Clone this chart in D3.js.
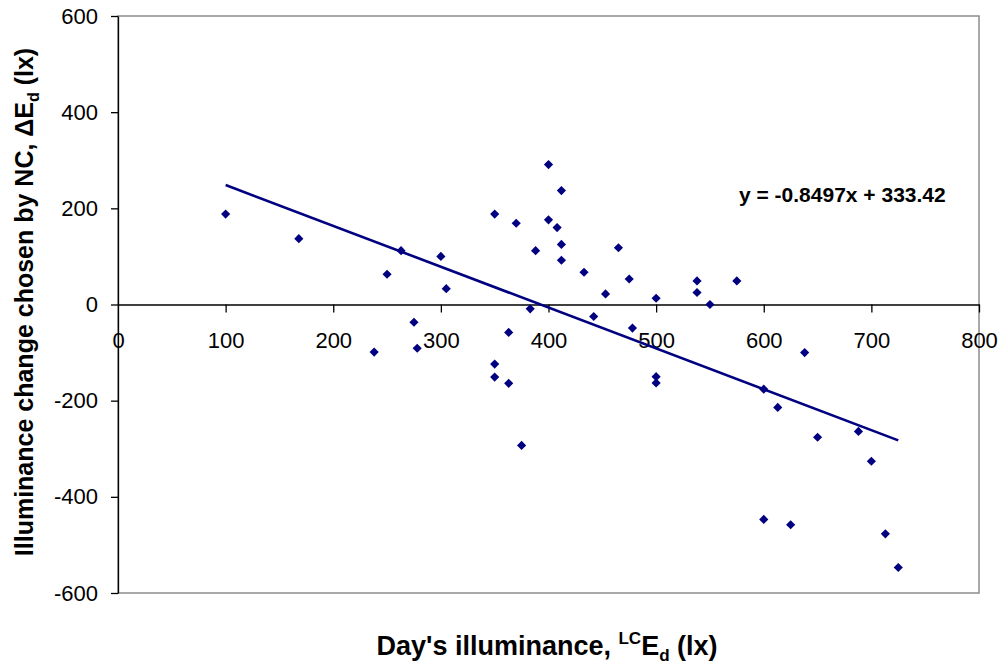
<!DOCTYPE html>
<html>
<head>
<meta charset="utf-8">
<script src="https://cdn.jsdelivr.net/npm/d3@7"></script>
<style>
  html, body { margin: 0; padding: 0; background: #fff; }
  svg { display: block; font-family: Arial, "Liberation Sans", sans-serif; }
</style>
</head>
<body>
<svg width="1005" height="666"></svg>
<script>
'use strict';

// data: day's illuminance (lx) vs illuminance change (lx)
const dayLux = [
	100, 168, 238, 250, 263, 275, 278, 300, 305, 350,
	350, 350, 363, 363, 370, 375, 383, 388, 400, 400,
	408, 412, 412, 412, 433, 442, 453, 465, 475, 478,
	500, 500, 500, 538, 538, 550, 575, 600, 613, 638,
	650, 688, 700, 600, 625, 713, 725
];
const deltaLux = [
	188, 137, -99, 63, 112, -37, -91, 100, 33, 188,
	-124, -151, -58, -164, 169, -293, -9, 112, 291, 176,
	160, 237, 125, 92, 67, -25, 22, 118, 53, -49,
	13, -150, -163, 49, 25, 0, 49, -176, -214, -100,
	-276, -264, -326, -447, -458, -477, -547
];
const slope = -0.8497;
const intercept = 333.42;

const xTicks = [0, 100, 200, 300, 400, 500, 600, 700, 800];
const yTicks = [-600, -400, -200, 0, 200, 400, 600];

const navy = '#000080';

const svg = d3.select('svg');
const plot = {left: 118, right: 979, top: 16, bottom: 593};

const x = d3.scaleLinear().domain([0, 800]).range([plot.left, plot.right]);
const y = d3.scaleLinear().domain([-600, 600]).range([plot.bottom, plot.top]);

// plot area frame
svg.append('rect')
	.attr('x', plot.left)
	.attr('y', plot.top)
	.attr('width', plot.right - plot.left)
	.attr('height', plot.bottom - plot.top)
	.attr('fill', 'none')
	.attr('stroke', '#8c8c8c')
	.attr('stroke-width', 1.5);

// plain hyphen minus, like the original
const fmt = d => String(d);

// x axis on the zero line
const xAxis = svg.append('g')
		.attr('transform', 'translate(0,' + y(0) + ')')
		.call(d3.axisBottom(x).tickValues(xTicks).tickFormat(fmt)
			.tickSize(8).tickSizeOuter(0).tickPadding(20));

// y axis on x = 0
const yAxis = svg.append('g')
		.attr('transform', 'translate(' + x(0) + ',0)')
		.call(d3.axisLeft(y).tickValues(yTicks).tickFormat(fmt)
			.tickSize(7).tickSizeOuter(0).tickPadding(13));

[xAxis, yAxis].forEach(g => {
	g.select('.domain').attr('stroke', '#000').attr('stroke-width', 1.3);
	g.selectAll('.tick line').attr('stroke', '#000').attr('stroke-width', 1.3);
	g.selectAll('.tick text')
		.attr('fill', '#000')
		.style('font-size', '22px')
		.style('font-family', 'Arial, "Liberation Sans", sans-serif');
});
xAxis.select('.tick line').remove(); // no tick at origin

// trend line
const xr = d3.extent(dayLux);
svg.append('path')
	.datum(xr.map(v => [v, slope * v + intercept]))
	.attr('fill', 'none')
	.attr('stroke', navy)
	.attr('stroke-width', 2.6)
	.attr('d', d3.line().x(d => x(d[0])).y(d => y(d[1])));

// points
const diamond = d3.symbol().type(d3.symbolSquare).size(42);
svg.selectAll('.pt')
	.data(d3.zip(dayLux, deltaLux))
	.enter().append('path')
		.attr('class', 'pt')
		.attr('fill', navy)
		.attr('transform', d => 'translate(' + x(d[0]) + ',' + y(d[1]) + ') rotate(45)')
		.attr('d', diamond);

// equation label
svg.append('text')
	.attr('x', 739)
	.attr('y', 202)
	.style('font-size', '21px')
	.style('font-weight', 'bold')
	.text('y = -0.8497x + 333.42');

// x axis title
const xt = svg.append('text')
	.attr('x', 547)
	.attr('y', 655)
	.attr('text-anchor', 'middle')
	.style('font-size', '27px')
	.style('font-weight', 'bold');
xt.append('tspan').text("Day's illuminance, ");
xt.append('tspan').attr('dy', -11).style('font-size', '17px').text('LC');
xt.append('tspan').attr('dy', 11).text('E');
xt.append('tspan').attr('dy', 6).style('font-size', '17px').text('d');
xt.append('tspan').attr('dy', -6).text(' (lx)');

// y axis title
const yt = svg.append('text')
	.attr('transform', 'translate(33,302) rotate(-90)')
	.attr('text-anchor', 'middle')
	.style('font-size', '25px')
	.style('font-weight', 'bold');
yt.append('tspan').text('Illuminance change chosen by NC, ΔE');
yt.append('tspan').attr('dy', 6).style('font-size', '16px').text('d');
yt.append('tspan').attr('dy', -6).text(' (lx)');
</script>
</body>
</html>
